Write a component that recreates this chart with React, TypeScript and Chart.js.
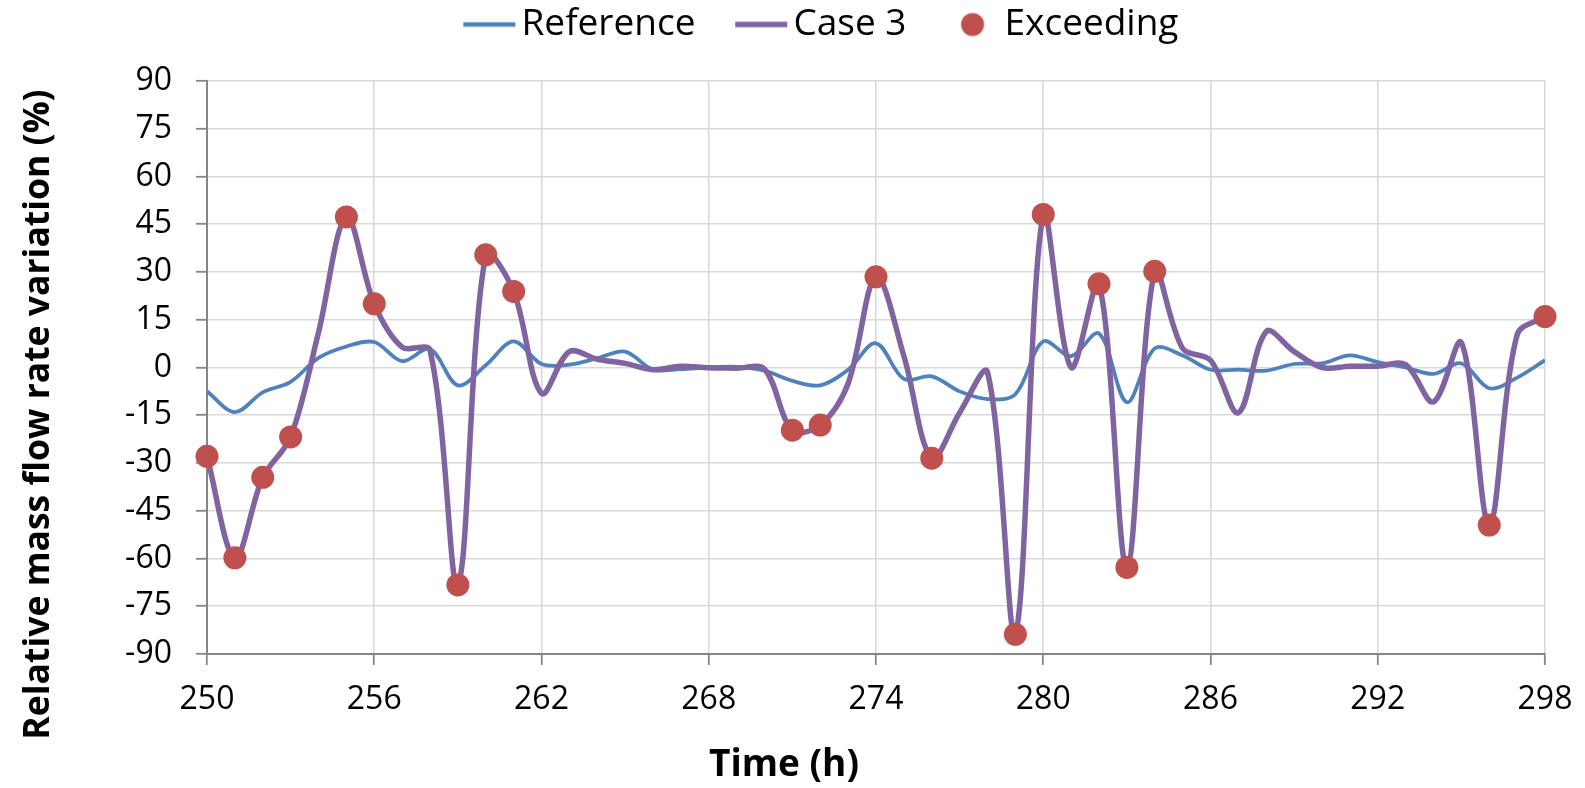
import React, { useEffect, useRef } from 'react';
import { Chart, registerables } from 'chart.js';

Chart.register(...registerables);

const hours = [
  250, 251, 252, 253, 254, 255, 256, 257, 258, 259,
  260, 261, 262, 263, 264, 265, 266, 267, 268, 269,
  270, 271, 272, 273, 274, 275, 276, 277, 278, 279,
  280, 281, 282, 283, 284, 285, 286, 287, 288, 289,
  290, 291, 292, 293, 294, 295, 296, 297, 298,
];

const referenceValues = [
  -7.5, -14, -7.8, -4.5, 3, 6.6, 8, 2, 5.8, -5.6,
  0.7, 8.2, 1.1, 0.9, 2.9, 5, -0.7, -0.5, 0, 0.2,
  -1, -4.2, -5.6, -0.7, 7.6, -3.6, -2.8, -7.5, -9.9, -8.4,
  8.2, 3.6, 10.7, -10.9, 6, 3.8, -0.7, -0.7, -1, 1.1,
  1.3, 3.8, 1.7, 0, -2, 1.3, -6.5, -3.2, 2.3,
];

const case3Values = [
  -27.9, -59.8, -34.5, -21.8, 11, 47.3, 20, 6.4, 5.4, -68.3,
  35.4, 23.9, -8.1, 5, 2.6, 1.3, -0.7, 0.4, -0.1, -0.2,
  -0.5, -19.7, -18.1, -5, 28.5, 3.6, -28.5, -14.2, -1.5, -83.8,
  48.1, 0, 26.3, -62.8, 30.2, 6, 2.3, -14.2, 11.3, 5,
  0, 0.4, 0.4, 0.9, -10.8, 7.8, -49.5, 10.3, 16,
];

const exceedingHours = [250, 251, 252, 253, 255, 256, 259, 260, 261, 271, 272, 274, 276, 279, 280, 282, 283, 284, 296, 298];
const exceedingValues = [-27.9, -59.8, -34.5, -21.8, 47.3, 20, -68.3, 35.4, 23.9, -19.7, -18.1, 28.5, -28.5, -83.8, 48.1, 26.3, -62.8, 30.2, -49.5, 16];

const xMin = 250;
const xMax = 298;
const xStep = 6;
const yMin = -90;
const yMax = 90;
const yStep = 15;

const seriesLabels = ['Reference', 'Case 3', 'Exceeding'];
const xTitle = 'Time (h)';
const yTitle = 'Relative mass flow rate variation (%)';

const BLUE = '#4F81BD';
const PURPLE = '#8064A2';
const RED = '#C0504D';
const GRID = '#D9D9D9';
const AXIS = '#868686';
const FONT = "'Open Sans', 'Liberation Sans', sans-serif";

function lineIcon(color: string, width: number) {
  const c = document.createElement('canvas');
  c.width = 100;
  c.height = 10;
  const ctx = c.getContext('2d')!;
  ctx.strokeStyle = color;
  ctx.lineWidth = width;
  ctx.beginPath();
  ctx.moveTo(47, 5);
  ctx.lineTo(99, 5);
  ctx.stroke();
  return c;
}

function dotIcon(color: string, r: number) {
  const c = document.createElement('canvas');
  c.width = 72;
  c.height = 26;
  const ctx = c.getContext('2d')!;
  ctx.fillStyle = color;
  ctx.beginPath();
  ctx.arc(59.25, 13, r, 0, Math.PI * 2);
  ctx.fill();
  return c;
}

const legendShift = {
  id: 'legendShift',
  afterLayout(chart: any) {
    if (chart.legend) {
      chart.legend.left += 40;
    }
  },
};

const yTitlePlugin = {
  id: 'yTitlePlugin',
  afterDraw(chart: any) {
    const ctx = chart.ctx;
    ctx.save();
    ctx.translate(38.5, 414.5);
    ctx.rotate(-Math.PI / 2);
    ctx.font = `bold 35.5px ${FONT}`;
    ctx.fillStyle = '#000';
    ctx.textAlign = 'center';
    ctx.textBaseline = 'middle';
    ctx.fillText(yTitle, 0, 0);
    ctx.restore();
  },
};

export default function App() {
  const ref = useRef<HTMLCanvasElement>(null);

  useEffect(() => {
    document.body.style.margin = '0';
    const icons = [lineIcon(BLUE, 4.5), lineIcon(PURPLE, 5.5), dotIcon(RED, 11.5)];
    const chart = new Chart(ref.current!, {
      type: 'line',
      data: {
        datasets: [
          {
            label: seriesLabels[0],
            data: hours.map((h, i) => ({ x: h, y: referenceValues[i] })),
            borderColor: BLUE,
            backgroundColor: BLUE,
            borderWidth: 3.75,
            pointRadius: 0,
            tension: 0.34,
            fill: false,
            order: 3,
          },
          {
            label: seriesLabels[1],
            data: hours.map((h, i) => ({ x: h, y: case3Values[i] })),
            borderColor: PURPLE,
            backgroundColor: PURPLE,
            borderWidth: 5.5,
            pointRadius: 0,
            tension: 0.34,
            fill: false,
            order: 2,
          },
          {
            type: 'scatter',
            label: seriesLabels[2],
            data: exceedingHours.map((h, i) => ({ x: h, y: exceedingValues[i] })),
            backgroundColor: RED,
            borderColor: RED,
            borderWidth: 0,
            pointRadius: 11.5,
            pointHoverRadius: 11.5,
            showLine: false,
            clip: false,
            order: 1,
          } as any,
        ],
      },
      options: {
        animation: false,
        responsive: true,
        maintainAspectRatio: false,
        layout: { padding: { top: 0, left: 0, right: 17, bottom: 0 } },
        font: { family: FONT },
        plugins: {
          tooltip: { enabled: false },
          legend: {
            position: 'top',
            labels: {
              usePointStyle: true,
              pointStyleWidth: 73.5,
              color: '#000',
              font: { family: FONT, size: 37 },
              padding: 6,
              generateLabels: (ch: any) =>
                ch.data.datasets.map((ds: any, i: number) => ({
                  text: ds.label,
                  datasetIndex: i,
                  pointStyle: icons[i],
                  fillStyle: 'transparent',
                  strokeStyle: 'transparent',
                  lineWidth: 0,
                  hidden: false,
                  fontColor: '#000',
                })),
            },
          },
          subtitle: {
            display: true,
            text: '',
            position: 'top',
            weight: 500,
            font: { family: FONT, size: 1 },
            padding: { top: 26.8, bottom: 0 },
          } as any,
          title: {
            display: true,
            text: xTitle,
            position: 'bottom',
            color: '#000',
            font: { family: FONT, size: 37, weight: 'bold' },
            padding: { top: 0, bottom: 0 },
          },
        },
        scales: {
          x: {
            type: 'linear',
            min: xMin,
            max: xMax,
            ticks: {
              stepSize: xStep,
              color: '#000',
              font: { family: FONT, size: 32 },
              padding: 16,
              maxRotation: 0,
            },
            grid: { color: GRID, lineWidth: 1.6, tickLength: 11, tickColor: AXIS, tickWidth: 1.8 },
            border: { color: AXIS, width: 2 },
            afterFit: (scale: any) => {
              scale.height = 89.6;
              scale.paddingRight = 40;
            },
          },
          y: {
            min: yMin,
            max: yMax,
            ticks: {
              stepSize: yStep,
              color: '#000',
              font: { family: FONT, size: 32 },
              padding: 24,
            },
            grid: { color: GRID, lineWidth: 1.6, tickLength: 11, tickColor: AXIS, tickWidth: 1.8 },
            border: { color: AXIS, width: 2 },
            afterFit: (scale: any) => {
              scale.width = 207;
            },
          },
        },
      },
      plugins: [legendShift, yTitlePlugin],
    });
    return () => chart.destroy();
  }, []);

  return (
    <div style={{ position: 'fixed', left: 0, top: 0, width: 1585, height: 788, background: '#fff' }}>
      <canvas ref={ref} />
    </div>
  );
}
